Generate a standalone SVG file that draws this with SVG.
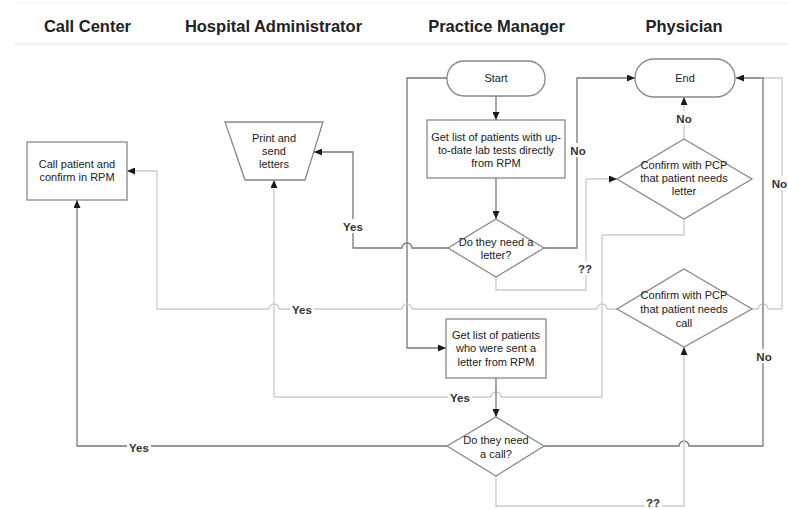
<svg xmlns="http://www.w3.org/2000/svg" width="788" height="509" viewBox="0 0 788 509">
<style>
.hdr{font-family:"Liberation Sans",Arial,sans-serif;font-size:16.5px;font-weight:bold;fill:#222;text-anchor:middle}
.t{font-family:"Liberation Sans",Arial,sans-serif;font-size:11px;fill:#222;text-anchor:middle}
.lb{font-family:"Liberation Sans",Arial,sans-serif;font-size:11.5px;font-weight:bold;fill:#333;text-anchor:middle}
.n{fill:#fff;stroke:#888;stroke-width:1.3}
.c{fill:none;stroke:#777;stroke-width:1.3}
.cl{fill:none;stroke:#ccc;stroke-width:1.3}
.bg{fill:#fff}
</style>
<defs>
<marker id="a" markerUnits="userSpaceOnUse" markerWidth="8" markerHeight="7" refX="8" refY="3.5" orient="auto"><path d="M0,0 L8,3.5 L0,7 z" fill="#1a1a1a"/></marker>
</defs>
<rect width="788" height="509" fill="#fff"/>
<g id="lanes">
<line x1="14" y1="3" x2="788" y2="3" stroke="#f0f0f0" stroke-width="1"/>
<line x1="14" y1="44" x2="788" y2="44" stroke="#eeeeee" stroke-width="1.5"/>
<text class="hdr" x="87.5" y="32">Call Center</text>
<text class="hdr" x="273.5" y="32">Hospital Administrator</text>
<text class="hdr" x="496.5" y="32">Practice Manager</text>
<text class="hdr" x="684" y="32">Physician</text>
</g>
<g id="connectors">
<path class="c" d="M447,78 H407 V348 H446" marker-end="url(#a)"/>
<path class="c" d="M496,96 V120" marker-end="url(#a)"/>
<path class="c" d="M496,178 V219" marker-end="url(#a)"/>
<path class="c" d="M544,248 H577 V78 H635" marker-end="url(#a)"/>
<path class="c" d="M448,248 H412 A5,5 0 0 0 402,248 H353 V152 H314" marker-end="url(#a)"/>
<path class="cl" d="M496,277 V290 H586 V179 H617" marker-end="url(#a)"/>
<path class="cl" d="M684,139 V97" marker-end="url(#a)"/>
<path class="cl" d="M684,219 V235 H602 V397 H501 A5,5 0 0 0 491,397 H274 V180" marker-end="url(#a)"/>
<path class="cl" d="M617,309 H607 A5,5 0 0 0 597,309 H412 A5,5 0 0 0 402,309 H279 A5,5 0 0 0 269,309 H157 V171 H127" marker-end="url(#a)"/>
<path class="cl" d="M752,309 H758 A5,5 0 0 1 768,309 H782 V78 H763"/>
<path class="c" d="M496,378 V417" marker-end="url(#a)"/>
<path class="c" d="M544,446 H679 A5,5 0 0 1 689,446 H763 V78 H736" marker-end="url(#a)"/>
<path class="c" d="M447,446 H77 V200" marker-end="url(#a)"/>
<path class="cl" d="M496,476 V506 H684 V347" marker-end="url(#a)"/>
</g>
<g id="labels">
<rect class="bg" x="569" y="143" width="17" height="14"/><text class="lb" x="578" y="155">No</text>
<rect class="bg" x="342" y="219" width="22" height="14"/><text class="lb" x="353" y="231">Yes</text>
<rect class="bg" x="676" y="111" width="17" height="14"/><text class="lb" x="684" y="123">No</text>
<rect class="bg" x="577" y="261" width="17" height="14"/><text class="lb" x="585" y="273">??</text>
<rect class="bg" x="290" y="302" width="24" height="14"/><text class="lb" x="302" y="314">Yes</text>
<rect class="bg" x="448" y="390" width="24" height="14"/><text class="lb" x="460" y="402">Yes</text>
<rect class="bg" x="127" y="440" width="24" height="14"/><text class="lb" x="139" y="452">Yes</text>
<rect class="bg" x="755" y="349" width="17" height="14"/><text class="lb" x="764" y="361">No</text>
<rect class="bg" x="771" y="176" width="17" height="14"/><text class="lb" x="787" y="188" style="text-anchor:end">No</text>
<rect class="bg" x="645" y="498" width="17" height="11"/><text class="lb" x="653" y="507">??</text>
</g>
<g id="start"><rect class="n" x="447" y="61" width="98" height="35" rx="17"/><text class="t" x="496" y="82">Start</text></g>
<g id="end"><rect class="n" x="635" y="59" width="100" height="38" rx="19"/><text class="t" x="685" y="82">End</text></g>
<g id="box1"><rect class="n" x="427" y="120" width="138" height="58"/>
<text class="t" x="496" y="141">Get list of patients with up-</text>
<text class="t" x="496" y="154">to-date lab tests directly</text>
<text class="t" x="496" y="167">from RPM</text></g>
<g id="print"><polygon class="n" points="225,122 323,122 305,180 245,180"/>
<text class="t" x="274" y="142">Print and</text>
<text class="t" x="274" y="155">send</text>
<text class="t" x="274" y="168">letters</text></g>
<g id="call"><rect class="n" x="27" y="142" width="100" height="58"/>
<text class="t" x="77" y="168">Call patient and</text>
<text class="t" x="77" y="181">confirm in RPM</text></g>
<g id="dec1"><polygon class="n" points="496,219 544,248 496,277 448,248"/>
<text class="t" x="496" y="246">Do they need a</text>
<text class="t" x="496" y="259">letter?</text></g>
<g id="conf1"><polygon class="n" points="684,139 752,179 684,219 617,179"/>
<text class="t" x="684" y="169">Confirm with PCP</text>
<text class="t" x="684" y="182">that patient needs</text>
<text class="t" x="684" y="195">letter</text></g>
<g id="conf2"><polygon class="n" points="684,269 752,309 684,347 617,309"/>
<text class="t" x="684" y="299">Confirm with PCP</text>
<text class="t" x="684" y="313">that patient needs</text>
<text class="t" x="684" y="327">call</text></g>
<g id="box2"><rect class="n" x="446" y="319" width="100" height="59"/>
<text class="t" x="496" y="339">Get list of patients</text>
<text class="t" x="496" y="352">who were sent a</text>
<text class="t" x="496" y="366">letter from RPM</text></g>
<g id="dec2"><polygon class="n" points="496,417 544,446 496,476 447,446"/>
<text class="t" x="496" y="444">Do they need</text>
<text class="t" x="496" y="458">a call?</text></g>
</svg>
